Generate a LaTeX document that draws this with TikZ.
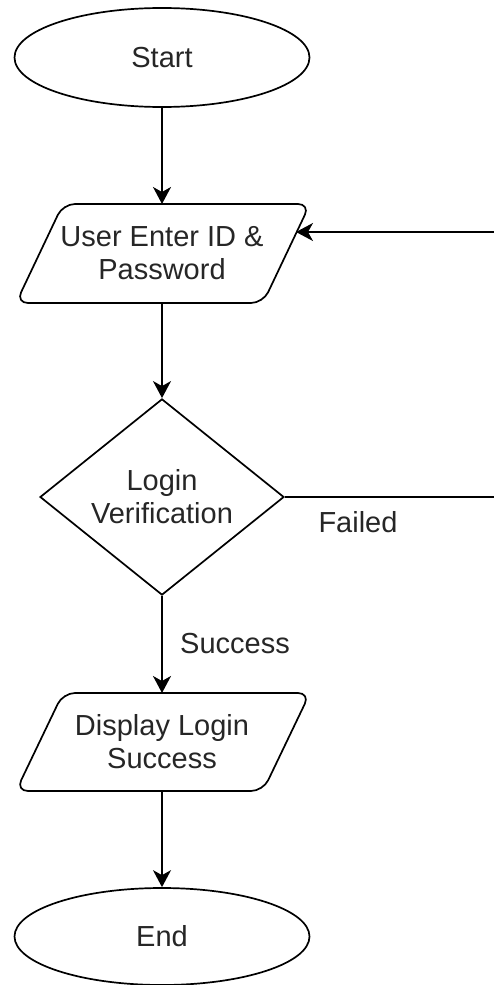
\documentclass[tikz,border=0pt]{standalone}
\usepackage{fontspec}
\setmainfont{Liberation Sans}
\usetikzlibrary{arrows.meta,shapes.geometric}
\begin{document}
\begin{tikzpicture}[x=1pt,y=-1pt,
  every node/.style={font=\fontsize{29}{33}\selectfont, text=black!85},
  line/.style={line width=1.7pt, draw=black},
  arr/.style={line, -{Stealth[length=17pt,width=18pt,inset=5pt]}},
  term/.style={ellipse, draw=black, line width=1.7pt, minimum width=295pt, minimum height=99pt, inner sep=0pt},
  dec/.style={diamond, draw=black, line width=1.7pt, minimum width=244pt, minimum height=193pt, inner sep=0pt, align=center},
  txt/.style={align=center, inner sep=0pt},
  para/.style={line, rounded corners=12pt}
]
\useasboundingbox (0,0) rectangle (494,985);

% Start
\node[term] (start) at (162,57.5) {Start};

% Input parallelogram
\node[txt] (p1) at (162,253.5) {User Enter ID \&\\Password};
\draw[para] (p1.center) ++(0,49.5) -- ++(-146,0) -- ++(47,-99) -- ++(247,0) -- ++(-47,99) -- cycle;
\coordinate (p1t) at (162,204);
\coordinate (p1b) at (162,303);
\coordinate (p1r) at (296,232);

% Decision
\node[dec] (dec) at (162,497) {Login\\Verification};

% Output parallelogram
\node[txt] (p2) at (162,742) {Display Login\\Success};
\draw[para] (p2.center) ++(0,49) -- ++(-146,0) -- ++(47,-98) -- ++(247,0) -- ++(-47,98) -- cycle;
\coordinate (p2t) at (162,693);
\coordinate (p2b) at (162,791);

% End
\node[term, minimum height=97pt] (end) at (162,936.5) {End};

% Labels
\node[inner sep=0pt] (failed) at (358,522) {Failed};
\node[inner sep=0pt] (success) at (235,644) {Success};

% Loose ends at the right border
\coordinate (fr) at (494,497);
\coordinate (fl) at (494,232);

% Connectors
\draw[arr] (start.south) -- (p1t);
\draw[arr] (p1b) -- (dec.north);
\draw[arr] (dec.south) -- (p2t);
\draw[arr] (p2b) -- (end.north);
\draw[line] (dec.east) -- (fr);
\draw[arr] (fl) -- (p1r);
\end{tikzpicture}
\end{document}
